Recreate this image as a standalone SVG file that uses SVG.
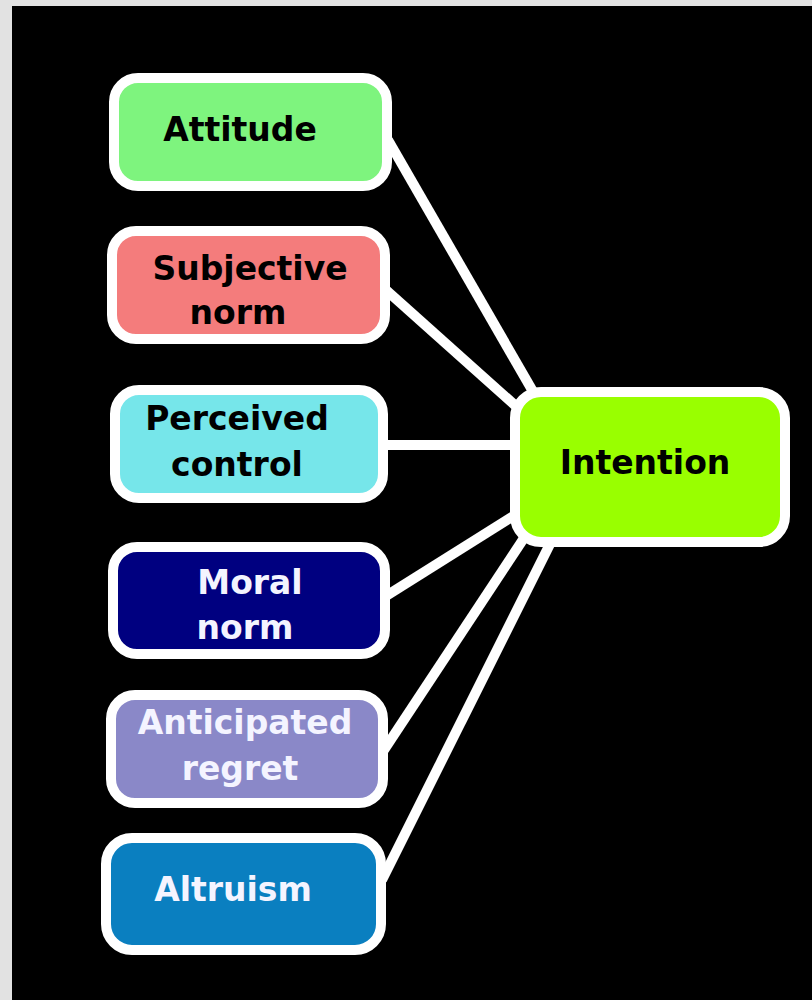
<svg xmlns="http://www.w3.org/2000/svg" width="812" height="1000" viewBox="0 0 812 1000">
<style>
.box{stroke:#ffffff;stroke-width:10}
.lbl{font-family:"DejaVu Sans",Verdana,sans-serif;font-weight:bold;font-size:33px;text-anchor:middle}
.dk{fill:#000000}
.lt{fill:#f4f4ff}
.conn line{stroke:#ffffff;stroke-width:10}
</style>
<rect x="0" y="0" width="812" height="1000" fill="#e2e2e2"/>
<rect x="12" y="6" width="800" height="994" fill="#000000"/>
<g class="conn">
<line x1="388" y1="140" x2="535" y2="395"/>
<line x1="386" y1="290" x2="518" y2="408"/>
<line x1="384" y1="445" x2="515" y2="445"/>
<line x1="386" y1="596" x2="515" y2="515"/>
<line x1="384" y1="750" x2="528" y2="532"/>
<line x1="382" y1="880" x2="552" y2="540"/>
</g>
<g id="attitude"><rect class="box" x="114" y="78" width="273" height="108" rx="24" fill="#7ef47e"/><text class="lbl dk" x="240" y="141">Attitude</text></g>
<g id="subjective"><rect class="box" x="112" y="231" width="273" height="108" rx="24" fill="#f47c7c"/><text class="lbl dk" x="250" y="280">Subjective</text><text class="lbl dk" x="238" y="324">norm</text></g>
<g id="perceived"><rect class="box" x="115" y="390" width="268" height="108" rx="24" fill="#76e6ea"/><text class="lbl dk" x="237" y="430">Perceived</text><text class="lbl dk" x="237" y="476">control</text></g>
<g id="moral"><rect class="box" x="113" y="547" width="272" height="107" rx="24" fill="#000080"/><text class="lbl lt" x="250" y="594">Moral</text><text class="lbl lt" x="245" y="639">norm</text></g>
<g id="regret"><rect class="box" x="111" y="695" width="272" height="108" rx="24" fill="#8a88c8"/><text class="lbl lt" x="245" y="734">Anticipated</text><text class="lbl lt" x="240" y="780">regret</text></g>
<g id="altruism"><rect class="box" x="106" y="838" width="275" height="112" rx="26" fill="#0a7fc0"/><text class="lbl lt" x="233" y="901">Altruism</text></g>
<g id="intention"><rect class="box" x="515" y="392" width="270" height="150" rx="26" fill="#99ff00"/><text class="lbl dk" x="645" y="474">Intention</text></g>
</svg>
